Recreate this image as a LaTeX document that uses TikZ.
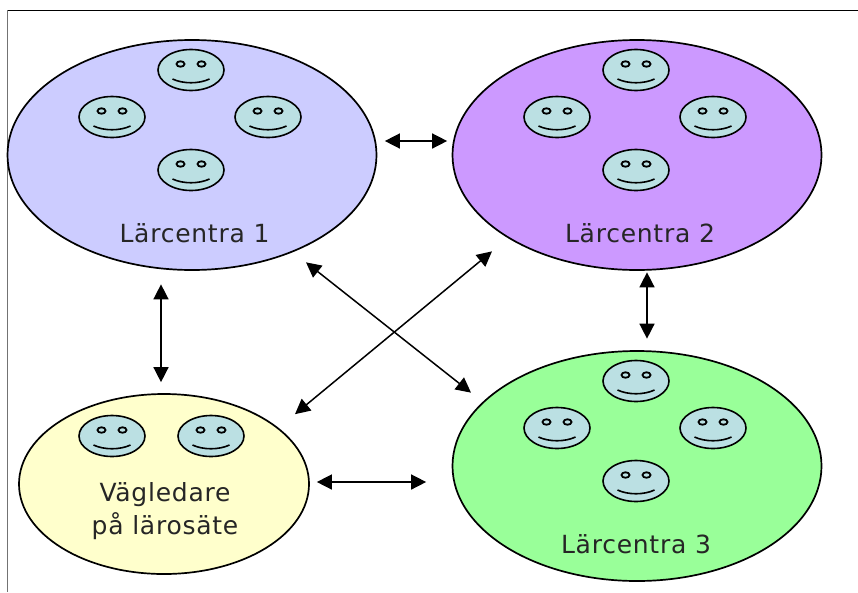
\documentclass[tikz,border=0pt]{standalone}
\usepackage{fontspec}
\setmainfont[LetterSpace=3]{DejaVu Sans}
\usetikzlibrary{arrows.meta,shapes.geometric,calc,positioning}
\definecolor{center1}{HTML}{CCCCFF}
\definecolor{center2}{HTML}{CC99FF}
\definecolor{center3}{HTML}{99FF99}
\definecolor{guide}{HTML}{FFFFCC}
\definecolor{skin}{HTML}{BBE0E3}
\tikzset{
  group/.style={ellipse, draw, line width=1.7pt, inner sep=0pt},
  bigroup/.style={group, minimum width=369pt, minimum height=230pt},
  face/.style={ellipse, draw, line width=1.6pt, fill=skin, inner sep=0pt, minimum width=66pt, minimum height=41pt},
  eye/.style={ellipse, draw, line width=1.8pt, fill=skin, inner sep=0pt, minimum width=8pt, minimum height=5.5pt},
  label/.style={font=\fontsize{25}{33}\selectfont, text=black!85, align=center},
  twoway/.style={{Triangle[length=15pt,width=15pt]}-{Triangle[length=15pt,width=15pt]}, line width=1.5pt},
}
\newcommand{\smiley}[2]{
  \node[face] (#1) at (#2) {};
  \node[eye] at ($(#1)+(-10.5,-6)$) {};
  \node[eye] at ($(#1)+(10.5,-6)$) {};
  \draw[line width=1.6pt] ($(#1)+(-18.5,9)$) .. controls ($(#1)+(-8,14)$) and ($(#1)+(8,14)$) .. ($(#1)+(18.5,9)$);
}
\begin{document}
\begin{tikzpicture}[x=1pt,y=-1pt]
  \useasboundingbox (0,0) rectangle (858,592);
  \draw[line width=1pt] (7.5,10) -- (858,10);
  \draw[line width=1.6pt, black!55] (7.5,10) -- (7.5,592);

  \node[bigroup, fill=center1] (lc1) at (192,155) {};
  \node[bigroup, fill=center2] (lc2) at (637,155) {};
  \node[bigroup, fill=center3] (lc3) at (637,466) {};
  \node[group, fill=guide, minimum width=290pt, minimum height=180pt] (vl) at (164,484) {};

  \foreach \gx/\gy/\gn in {191/70/a,636/70/b,636/381/c}{
    \smiley{\gn top}{\gx,\gy}
    \smiley{\gn left}{\gx-79,\gy+47}
    \smiley{\gn right}{\gx+77,\gy+47}
    \smiley{\gn low}{\gx,\gy+100}
  }
  \smiley{vl1}{112,436}
  \smiley{vl2}{211,436}

  \node[label] (t1) at (194.5,233) {Lärcentra 1};
  \node[label] (t2) at (640,233) {Lärcentra 2};
  \node[label] (t3) at (636,544) {Lärcentra 3};
  \node[label] (t4) at (165,511) {Vägledare\\på lärosäte};

  % arrows stop short of the ellipses
  \draw[twoway] ([shift={(7.5,-14)}]lc1.east) -- ([shift={(-4.5,-14)}]lc2.west);
  \draw[twoway] ([shift={(-31,13.5)}]lc1.south) -- ([shift={(-3,-11)}]vl.north);
  \draw[twoway] ([shift={(10,1.5)}]lc2.south) -- ([shift={(10,-11.5)}]lc3.north);
  \draw[twoway] ([shift={(7,-2)}]vl.east) -- ([shift={(-25.5,16)}]lc3.west);
  \draw[twoway] ([shift={(114,-8.5)}]lc1.south) -- ([shift={(-166,42.5)}]lc3.north);
  \draw[twoway] ([shift={(-145,-19.5)}]lc2.south) -- ([shift={(131,21)}]vl.north);
\end{tikzpicture}
\end{document}
